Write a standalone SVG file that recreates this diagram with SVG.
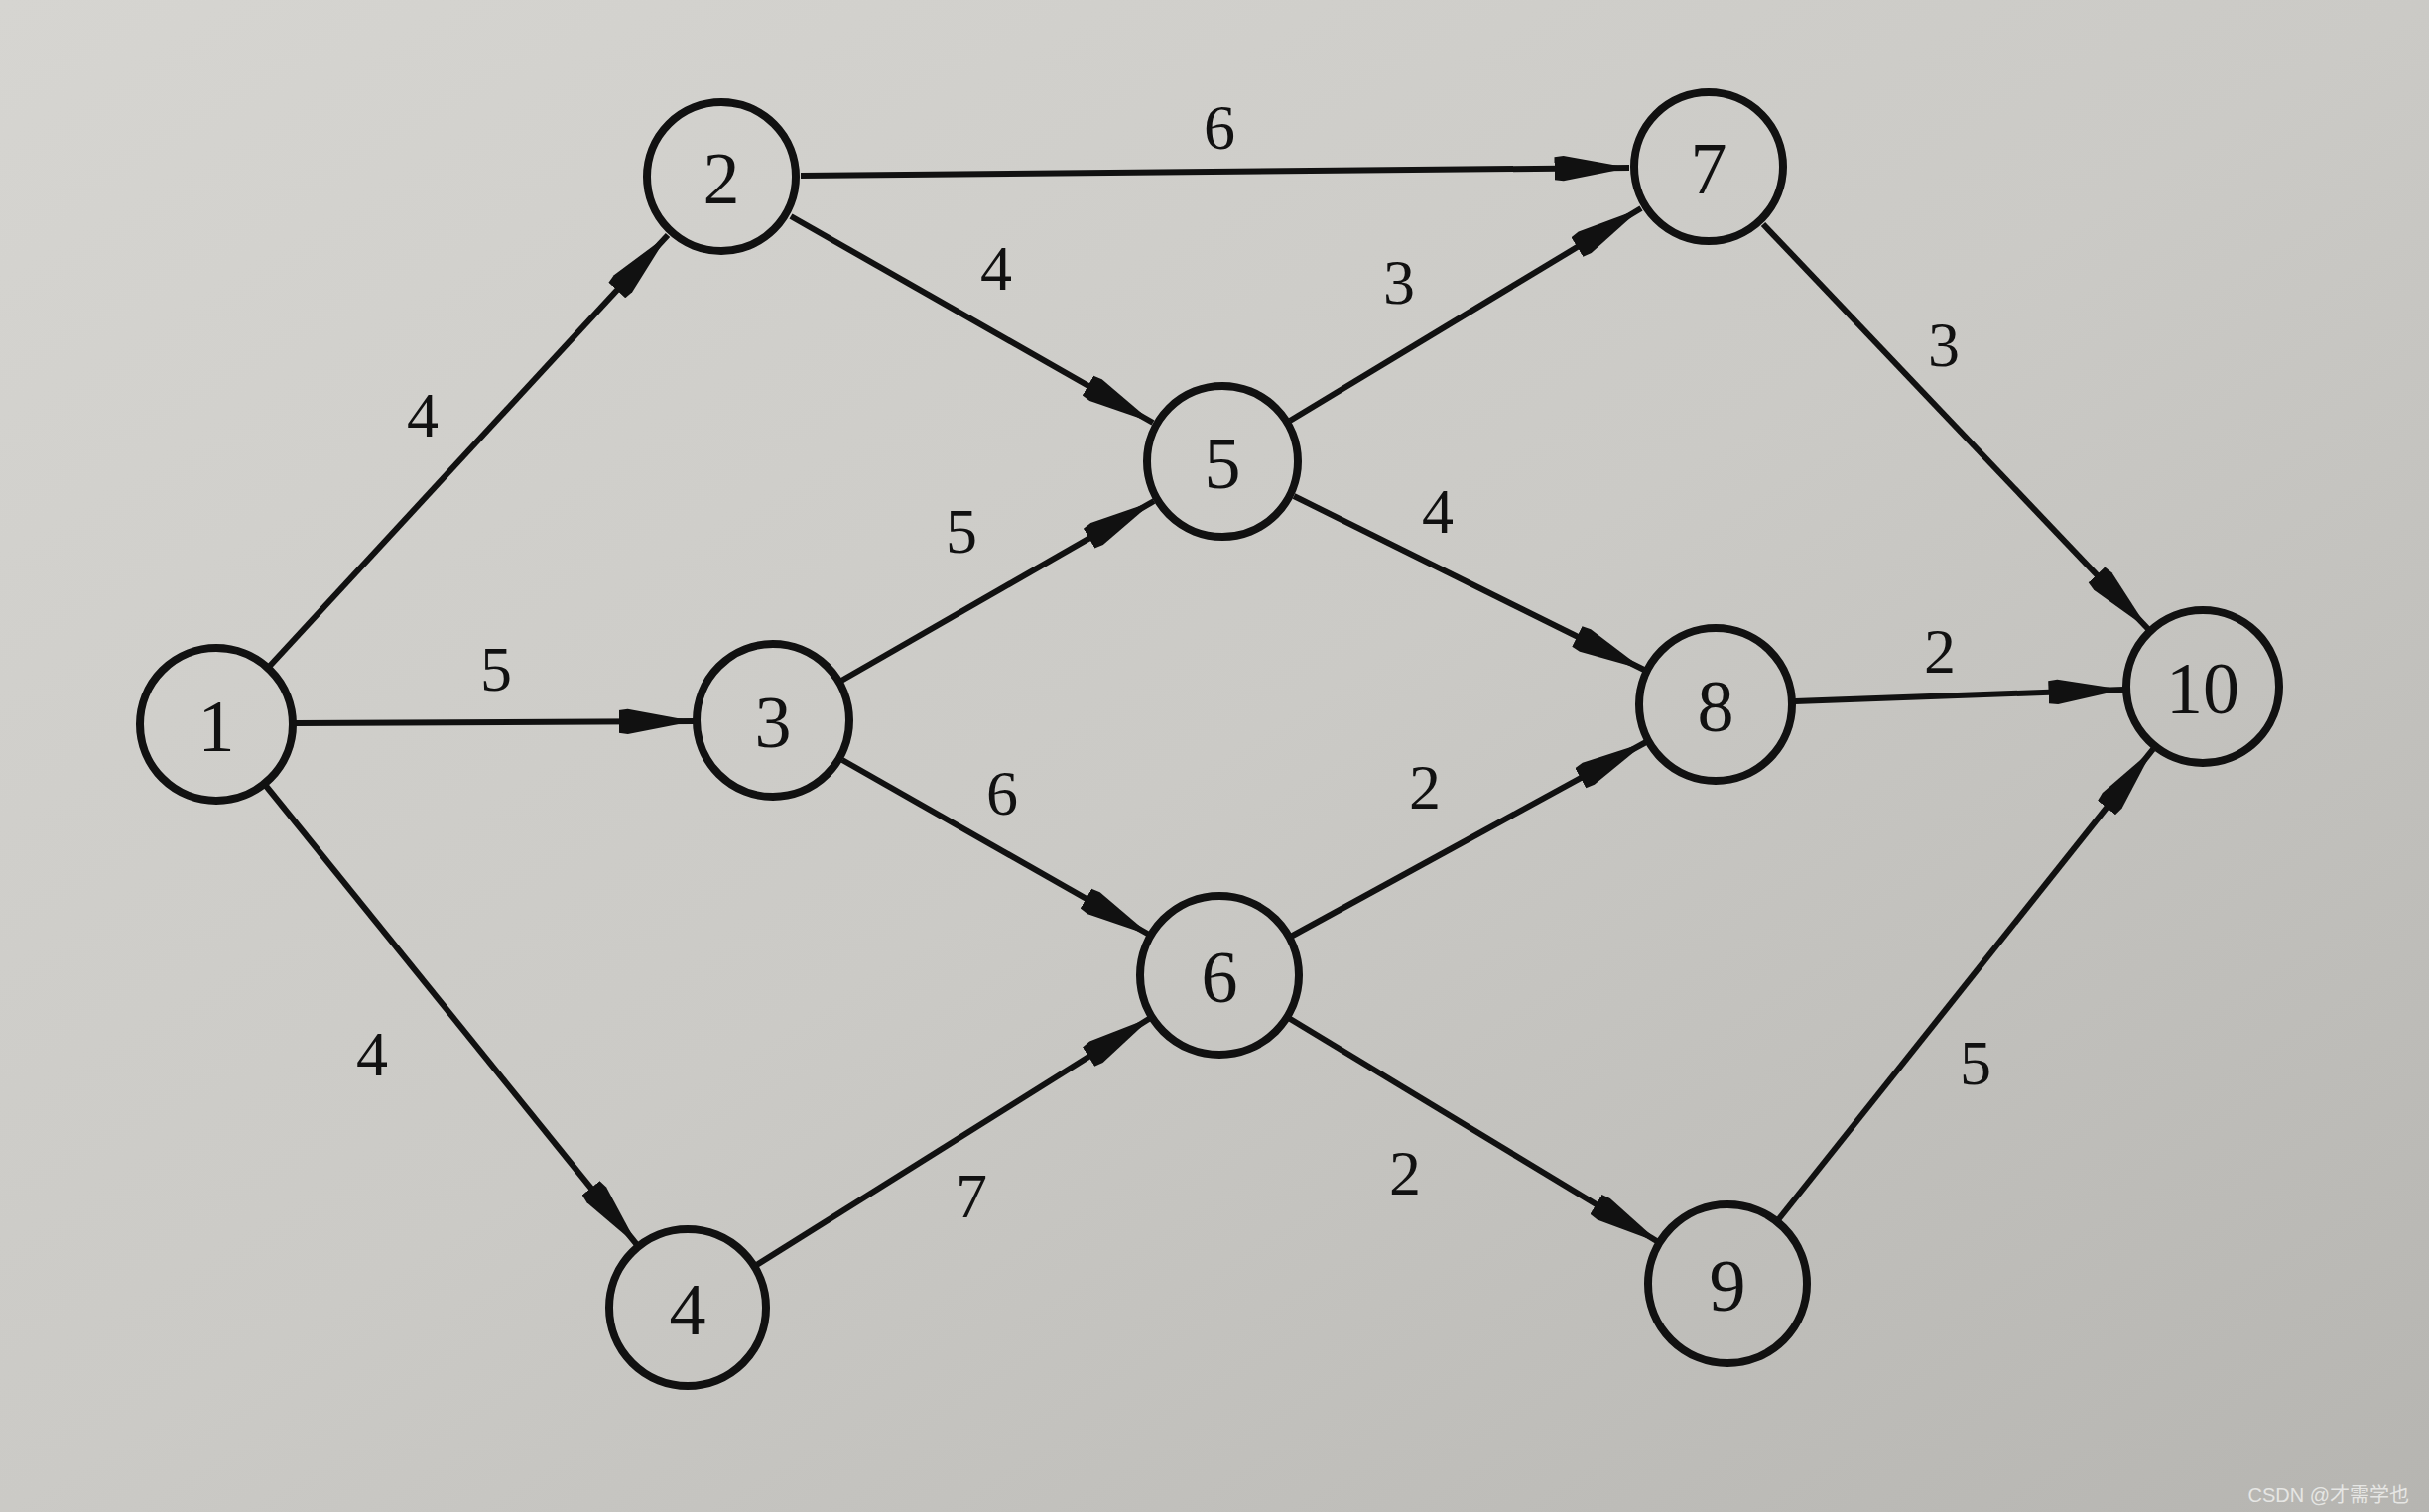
<svg xmlns="http://www.w3.org/2000/svg" width="2448" height="1524" viewBox="0 0 2448 1524">
<defs>
<linearGradient id="bg" x1="0" y1="0" x2="1" y2="1">
<stop offset="0" stop-color="#d6d5d1"/>
<stop offset="0.5" stop-color="#cbcac6"/>
<stop offset="1" stop-color="#b6b5b1"/>
</linearGradient>
<marker id="ah" markerUnits="userSpaceOnUse" markerWidth="80" markerHeight="30" refX="66" refY="12" orient="auto" viewBox="0 0 70 24">
<path d="M0,2 L8,1 L66,12 L8,23 L0,22 z" fill="#111"/>
</marker>
<style>
.node circle{fill:none;stroke:#111;stroke-width:8}
.node text{font-family:"Liberation Serif","DejaVu Serif",serif;font-size:74px;fill:#111;text-anchor:middle;dominant-baseline:central}
.edge line{stroke:#111;stroke-width:6;marker-end:url(#ah)}
.lbl{font-family:"Liberation Serif","DejaVu Serif",serif;font-size:64px;fill:#111;text-anchor:middle;dominant-baseline:central}
.wm{font-family:"Liberation Sans","Noto Sans CJK SC",sans-serif;font-size:20px;fill:#e6e6e4;text-anchor:end}
</style>
</defs>
<rect width="2448" height="1524" fill="url(#bg)"/>
<g id="connectors" class="edge">
<line x1="272" y1="671" x2="673" y2="237"/>
<line x1="298" y1="729" x2="699" y2="727"/>
<line x1="268" y1="792" x2="643" y2="1256"/>
<line x1="807" y1="177" x2="1642" y2="169"/>
<line x1="797" y1="218" x2="1162" y2="426"/>
<line x1="848" y1="686" x2="1163" y2="505"/>
<line x1="849" y1="766" x2="1160" y2="943"/>
<line x1="761" y1="1276" x2="1161" y2="1025"/>
<line x1="1300" y1="424" x2="1654" y2="210"/>
<line x1="1304" y1="500" x2="1657" y2="675"/>
<line x1="1299" y1="945" x2="1659" y2="748"/>
<line x1="1297" y1="1025" x2="1673" y2="1253"/>
<line x1="1777" y1="226" x2="2165" y2="634"/>
<line x1="1809" y1="707" x2="2140" y2="695"/>
<line x1="1791" y1="1231" x2="2170" y2="755"/>
</g>
<g id="labels">
<text class="lbl" x="1229" y="128">6</text>
<text class="lbl" x="1004" y="270">4</text>
<text class="lbl" x="426" y="418">4</text>
<text class="lbl" x="1410" y="284">3</text>
<text class="lbl" x="1959" y="347">3</text>
<text class="lbl" x="969" y="535">5</text>
<text class="lbl" x="1449" y="515">4</text>
<text class="lbl" x="500" y="674">5</text>
<text class="lbl" x="1955" y="656">2</text>
<text class="lbl" x="1010" y="799">6</text>
<text class="lbl" x="1436" y="793">2</text>
<text class="lbl" x="375" y="1062">4</text>
<text class="lbl" x="1991" y="1071">5</text>
<text class="lbl" x="979" y="1205">7</text>
<text class="lbl" x="1416" y="1182">2</text>
</g>
<g id="n1" class="node"><circle cx="218" cy="730" r="77"/><text x="218" y="732">1</text></g>
<g id="n2" class="node"><circle cx="727" cy="178" r="75"/><text x="727" y="180">2</text></g>
<g id="n3" class="node"><circle cx="779" cy="726" r="77"/><text x="779" y="728">3</text></g>
<g id="n4" class="node"><circle cx="693" cy="1318" r="79"/><text x="693" y="1320">4</text></g>
<g id="n5" class="node"><circle cx="1232" cy="465" r="76"/><text x="1232" y="467">5</text></g>
<g id="n6" class="node"><circle cx="1229" cy="983" r="80"/><text x="1229" y="985">6</text></g>
<g id="n7" class="node"><circle cx="1722" cy="168" r="75"/><text x="1722" y="170">7</text></g>
<g id="n8" class="node"><circle cx="1729" cy="710" r="77"/><text x="1729" y="712">8</text></g>
<g id="n9" class="node"><circle cx="1741" cy="1294" r="80"/><text x="1741" y="1296">9</text></g>
<g id="n10" class="node"><circle cx="2220" cy="692" r="77"/><text x="2220" y="694">10</text></g>
<text class="wm" x="2428" y="1514">CSDN @才需学也</text>
</svg>
